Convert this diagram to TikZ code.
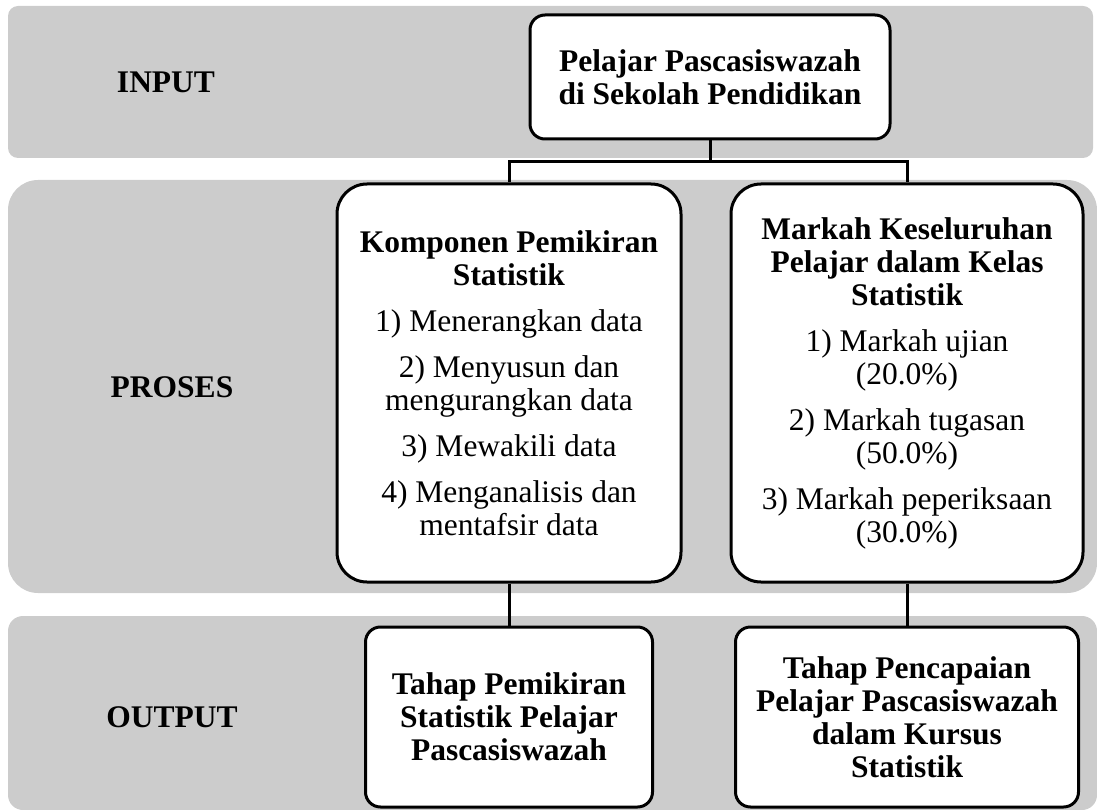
\documentclass[tikz,border=0pt]{standalone}
\usepackage{fontspec}
\setmainfont{Liberation Serif}
\begin{document}
\begin{tikzpicture}[x=1pt,y=-1pt,font=\fontsize{31.5}{33}\selectfont,
		band/.style={fill=black!20},
		box/.style={draw,line width=3pt,fill=white,rounded corners=#1,align=center,inner sep=0pt},
		box/.default=15pt,
		link/.style={line width=3pt},
		lbl/.style={font=\fontsize{31.5}{33}\selectfont\bfseries}]
	\useasboundingbox (0,0) rectangle (1097,810);
	% bands
	\fill[band,rounded corners=10pt] (8,6) rectangle (1093,158);
	\fill[band,rounded corners=30pt] (8,180) rectangle (1097,593);
	\fill[band,rounded corners=15pt] (8,616) rectangle (1097,810);
	\node[lbl] (input) at (166,82) {INPUT};
	\node[lbl] (proses) at (172,387) {PROSES};
	\node[lbl] (output) at (172,717) {OUTPUT};
	% boxes
	\node[box,lbl,minimum width=360pt,minimum height=124pt] (pelajar) at (710,77) {Pelajar Pascasiswazah\\di Sekolah Pendidikan};
	\node[box=30pt,minimum width=344pt,minimum height=398pt] (komponen) at (509,383) {\textbf{Komponen Pemikiran}\\\textbf{Statistik}\\[13pt]1) Menerangkan data\\[13pt]2) Menyusun dan\\mengurangkan data\\[13pt]3) Mewakili data\\[13pt]4) Menganalisis dan\\mentafsir data};
	\node[box=30pt,minimum width=352pt,minimum height=398pt] (markah) at (907,383) {\textbf{Markah Keseluruhan}\\\textbf{Pelajar dalam Kelas}\\\textbf{Statistik}\\[13pt]1) Markah ujian\\(20.0\%)\\[13pt]2) Markah tugasan\\(50.0\%)\\[13pt]3) Markah peperiksaan\\(30.0\%)};
	\node[box,lbl,minimum width=287pt,minimum height=180pt] (tahappemikiran) at (509,717) {Tahap Pemikiran\\Statistik Pelajar\\Pascasiswazah};
	\node[box,lbl,minimum width=343pt,minimum height=180pt] (tahappencapaian) at (907,717) {Tahap Pencapaian\\Pelajar Pascasiswazah\\dalam Kursus\\Statistik};
	% connectors
	\coordinate (fork) at (710,162);
	\draw[link] (pelajar) -- (fork);
	\draw[link] (komponen) |- (fork) -| (markah);
	\draw[link] (komponen) -- (tahappemikiran);
	\draw[link] (markah) -- (tahappencapaian);
\end{tikzpicture}
\end{document}
